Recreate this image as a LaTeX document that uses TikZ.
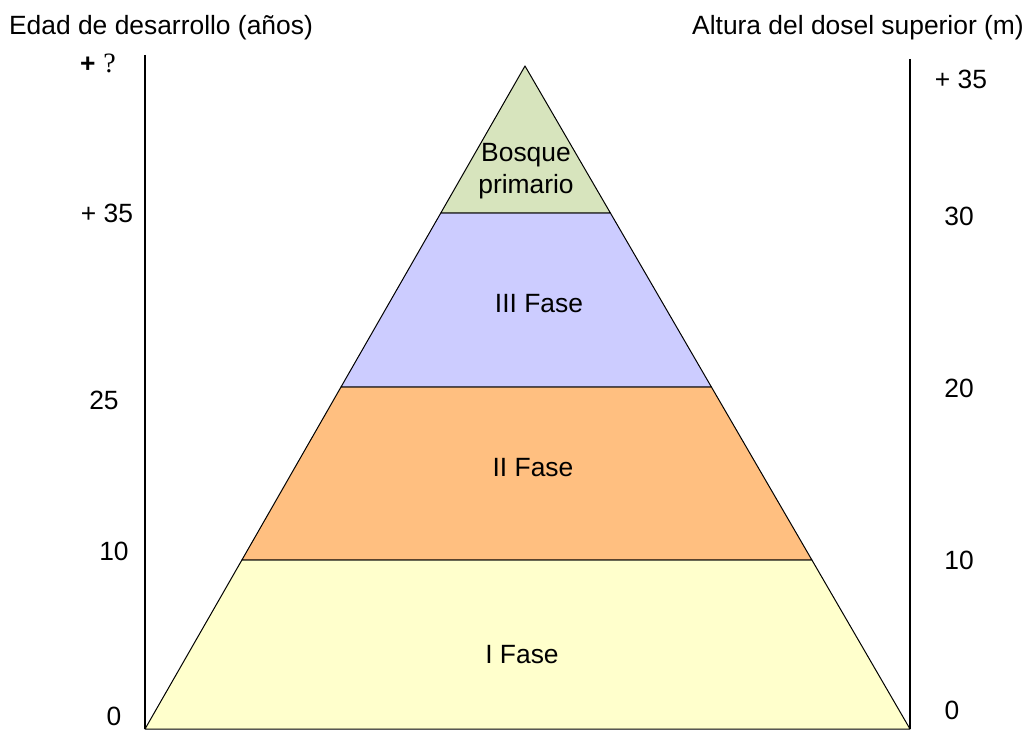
\documentclass[tikz,border=0pt]{standalone}
\usepackage{fontspec}
\setmainfont{Liberation Sans}
\newfontfamily\qfont{Liberation Serif}
\usepackage{tikz}
\definecolor{bosque}{HTML}{D7E4BD}
\definecolor{fasetres}{HTML}{CCCCFF}
\definecolor{fasedos}{HTML}{FFBF80}
\definecolor{faseuno}{HTML}{FFFFCC}
\tikzset{
  lbl/.style={inner sep=0pt,font=\fontsize{19.8}{24.5}\selectfont},
  faja/.style={draw=black,line width=0.75pt,line join=round}
}

\begin{document}
\begin{tikzpicture}[x=0.75pt,y=-0.75pt]
  \useasboundingbox (0,0) rectangle (1032,730);

  \coordinate (a) at (525,66);
  \coordinate (l3) at (440.8,213);
  \coordinate (r3) at (610.4,213);
  \coordinate (l2) at (341.0,387);
  \coordinate (r2) at (711.4,387);
  \coordinate (l1) at (241.9,560);
  \coordinate (r1) at (811.9,560);
  \coordinate (l0) at (145,729);
  \coordinate (r0) at (910,729);

  \filldraw[faja,fill=faseuno] (l1) -- (r1) -- (r0) -- (l0) -- cycle;
  \filldraw[faja,fill=fasedos] (l2) -- (r2) -- (r1) -- (l1) -- cycle;
  \filldraw[faja,fill=fasetres] (l3) -- (r3) -- (r2) -- (l2) -- cycle;
  \filldraw[faja,fill=bosque] (a) -- (r3) -- (l3) -- cycle;

  \coordinate (ejeL) at (145,55);
  \coordinate (ejeR) at (910,59);
  \draw[line width=0.8pt] (ejeL) -- (l0);
  \draw[line width=0.8pt] (ejeR) -- (r0);

  \node[lbl,align=center] (bp) at (526,171) {Bosque\\primario};
  \node[lbl] (f3) at (539,304) {III Fase};
  \node[lbl] (f2) at (533,468) {II Fase};
  \node[lbl] (f1) at (522,655) {I Fase};

  \node[lbl] (tL) at (161,28) {Edad de desarrollo (años)};
  \node[lbl] (tR) at (858,28) {Altura del dosel superior (m)};

  \node[lbl] (e0) at (98,63) {\textbf{+}\hspace{0.3em}{\qfont\fontsize{21}{24}\selectfont ?}};
  \node[lbl] (e1) at (107,213) {+ 35};
  \node[lbl] (e2) at (104,400) {25};
  \node[lbl] (e3) at (114,551) {10};
  \node[lbl] (e4) at (114,716) {0};

  \node[lbl] (h0) at (961,79) {+ 35};
  \node[lbl] (h1) at (959,216) {30};
  \node[lbl] (h2) at (959,388) {20};
  \node[lbl] (h3) at (959,560) {10};
  \node[lbl] (h4) at (952,710) {0};
\end{tikzpicture}
\end{document}
